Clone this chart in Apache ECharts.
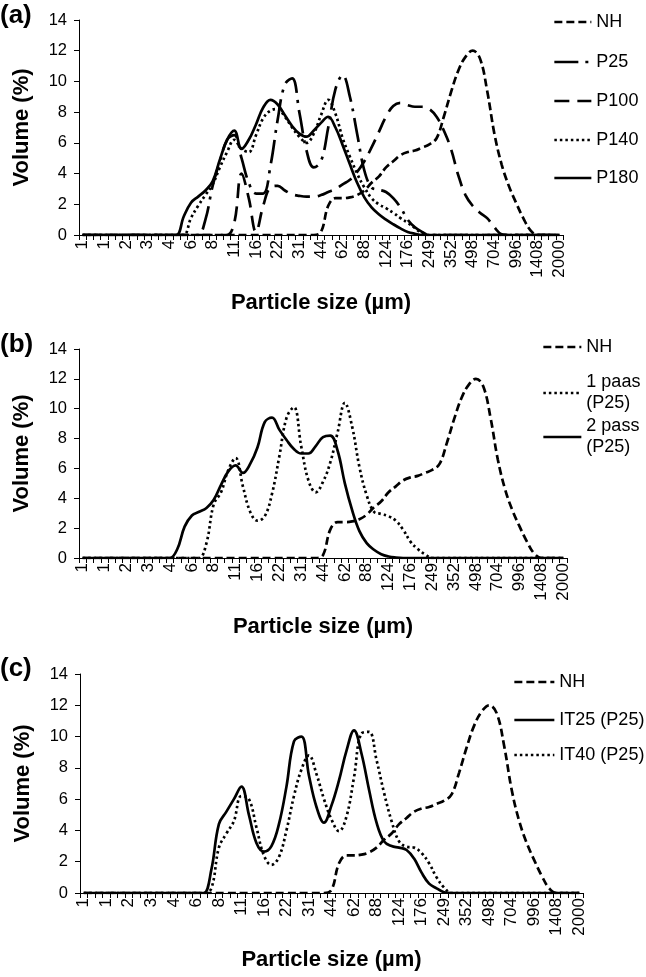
<!DOCTYPE html>
<html><head><meta charset="utf-8">
<script src="https://cdn.jsdelivr.net/npm/echarts@6/dist/echarts.min.js"></script>
<style>html,body{margin:0;padding:0;background:#fff}#c{width:646px;height:977px}</style>
</head><body><div id="c"></div><script>
// Particle size classes (µm); every third one is labelled on the axis
const sizeCategories = ['1','1.1','1.2','1','1.6','1.7','2','2.2','2.5','3','3.1','3.5','4','4.4','4.9','6','6.2','7','8','8.8','9.8','11','12','14','16','18','20','22','25','28','31','35','39','44','49','55','62','70','78','88','99','111','124','139','156','176','197','222','249','280','314','352','395','443','498','559','627','704','790','887','996','1118','1255','1408','1580','1774','2000'];

// Panel (a)
const NH = [0,0,0,0,0,0,0,0,0,0,0,0,0,0,0,0,0,0,0,0,0,0,0,0,0,0,0,0,0,0,0,0,0,
  0.2,1.9,2.4,2.4,2.45,2.6,2.9,3.4,3.8,4.4,4.8,5.2,5.4,5.5,5.7,5.9,6.3,7.7,9.3,10.7,11.6,12.0,11.5,9.4,6.6,4.6,3.2,2.1,1.1,0.3,0,0,0,0];
const P25 = [0,0,0,0,0,0,0,0,0,0,0,0,0,0,0,0,
  0,1.0,3.2,4.8,6.2,6.5,5.0,3.4,2.7,2.7,4.5,7.5,9.8,10.2,8.0,5.5,4.4,4.8,7.0,9.5,10.4,9.0,6.6,4.2,3.1,2.95,2.8,2.4,1.8,1.0,0.5,0.2,
  0,0,0,0,0,0,0,0,0,0,0,0,0,0,0,0,0,0,0];
const P100 = [0,0,0,0,0,0,0,0,0,0,0,0,0,0,0,0,0,0,0,0,0,
  0.8,4.0,2.4,0.2,1.9,3.1,3.2,2.9,2.65,2.55,2.5,2.5,2.6,2.8,3.0,3.3,3.6,4.1,4.8,5.7,6.7,7.7,8.4,8.6,8.45,8.35,8.35,8.2,7.7,6.8,5.6,3.9,2.6,1.9,1.45,1.1,0.5,0.05,
  0,0,0,0,0,0,0,0];
const P140 = [0,0,0,0,0,0,0,0,0,0,0,0,0,0,
  0,1.1,1.9,2.6,3.3,4.4,5.4,6.2,5.6,5.4,6.5,7.6,8.1,8.2,7.7,7.0,6.4,6.0,6.6,7.8,8.8,7.9,6.3,5.1,4.0,3.1,2.4,2.0,1.75,1.45,1.1,0.8,0.45,0.1,
  0,0,0,0,0,0,0,0,0,0,0,0,0,0,0,0,0,0,0];
const P180 = [0,0,0,0,0,0,0,0,0,0,0,0,0,
  0,1.2,2.1,2.5,2.9,3.5,4.9,6.2,6.8,5.6,6.2,7.2,8.3,8.8,8.5,7.8,7.1,6.6,6.4,6.8,7.3,7.7,7.0,5.85,4.6,3.4,2.45,1.8,1.35,1.0,0.7,0.43,0.2,0.08,
  0,0,0,0,0,0,0,0,0,0,0,0,0,0,0,0,0,0,0,0];

// Panel (b)
const pass1P25 = [0,0,0,0,0,0,0,0,0,0,0,0,0,0,0,0,
  0,1.0,3.6,4.4,5.9,6.7,4.8,3.1,2.5,2.8,4.3,6.8,9.4,10.1,7.5,5.2,4.4,5.1,6.4,8.4,10.4,8.8,6.1,4.2,3.1,2.95,2.8,2.5,1.9,1.1,0.6,0.25,
  0,0,0,0,0,0,0,0,0,0,0,0,0,0,0,0,0,0,0];
const pass2P25 = [0,0,0,0,0,0,0,0,0,0,0,0,
  0,0.6,2.1,2.85,3.1,3.35,3.9,4.9,5.8,6.2,5.7,6.3,7.4,9.1,9.4,8.6,7.9,7.3,7.0,7.0,7.5,8.1,8.2,7.2,5.0,3.2,1.8,1.0,0.55,0.25,0.1,0.03,
  0,0,0,0,0,0,0,0,0,0,0,0,0,0,0,0,0,0,0,0,0,0,0];

// Panel (c)
const IT25 = [0,0,0,0,0,0,0,0,0,0,0,0,0,0,0,0,
  0,1.5,4.4,5.2,6.0,6.8,5.0,3.2,2.65,3.0,4.4,6.8,9.7,10.0,7.5,5.5,4.5,5.6,7.2,9.1,10.4,8.9,6.6,4.5,3.3,3.0,2.9,2.75,2.2,1.3,0.6,0.3,0.05,
  0,0,0,0,0,0,0,0,0,0,0,0,0,0,0,0,0,0];
const IT40 = [0,0,0,0,0,0,0,0,0,0,0,0,0,0,0,0,0,
  0.3,2.9,3.8,4.6,6.2,6.0,4.2,2.4,1.8,2.3,4.0,6.2,7.9,8.8,7.6,6.0,4.7,3.95,4.9,7.4,10.2,10.3,8.5,6.4,4.6,3.3,2.96,2.9,2.55,1.9,1.0,0.35,
  0,0,0,0,0,0,0,0,0,0,0,0,0,0,0,0,0,0];

const FONT = '"Liberation Sans", Arial, sans-serif';
const BLACK = '#000';
const dashStyles = {
  shortDash: [8, 4],
  dashDot: [24, 7, 3, 7],
  longDash: [15, 8],
  dot: [2.5, 3],
  solid: 'solid'
};

const grids = [
  {left: 79, top: 20, width: 484, height: 215, nameGap: 57},
  {left: 79, top: 349, width: 488, height: 209, nameGap: 58},
  {left: 80, top: 674, width: 503, height: 219, nameGap: 56}
];

const chart = echarts.init(document.getElementById('c'), null, {renderer: 'canvas'});

const xAxes = grids.map((g, i) => ({
  type: 'category', gridIndex: i, data: sizeCategories, boundaryGap: true,
  axisLine: {show: true, lineStyle: {color: BLACK, width: 1}},
  axisTick: {show: true, interval: 0, length: 5, lineStyle: {color: BLACK, width: 1}},
  axisLabel: {interval: 2, rotate: 90, fontSize: 17, color: BLACK, margin: 5, fontFamily: FONT},
  splitLine: {show: false},
  name: 'Particle size (µm)', nameLocation: 'middle', nameGap: g.nameGap,
  nameTextStyle: {fontSize: 22, fontWeight: 'bold', color: BLACK, fontFamily: FONT}
}));
const yAxes = grids.map((g, i) => ({
  type: 'value', gridIndex: i, min: 0, max: 14, interval: 2,
  axisLine: {show: true, lineStyle: {color: BLACK, width: 1}},
  axisTick: {show: true, length: 5, lineStyle: {color: BLACK, width: 1}},
  axisLabel: {fontSize: 16.5, color: BLACK, margin: 12, fontFamily: FONT},
  splitLine: {show: false},
  name: 'Volume (%)', nameLocation: 'middle', nameRotate: 90, nameGap: 46,
  nameTextStyle: {fontSize: 22, fontWeight: 'bold', color: BLACK, fontFamily: FONT}
}));

function line(name, data, dash, idx) {
  return {
    type: 'line', name: name, data: data, xAxisIndex: idx, yAxisIndex: idx,
    smooth: 0.4, symbol: 'none', showSymbol: false,
    lineStyle: {color: BLACK, width: 2.7, type: dash},
    itemStyle: {color: BLACK},
    emphasis: {disabled: true}, animation: false
  };
}

const series = [
  line('NH', NH, dashStyles.shortDash, 0),
  line('P25', P25, dashStyles.dashDot, 0),
  line('P100', P100, dashStyles.longDash, 0),
  line('P140', P140, dashStyles.dot, 0),
  line('P180', P180, dashStyles.solid, 0),
  line('NH ', NH, dashStyles.shortDash, 1),
  line('1 paas (P25)', pass1P25, dashStyles.dot, 1),
  line('2 pass (P25)', pass2P25, dashStyles.solid, 1),
  line('NH  ', NH, dashStyles.shortDash, 2),
  line('IT25 (P25)', IT25, dashStyles.solid, 2),
  line('IT40 (P25)', IT40, dashStyles.dot, 2)
];

function legendItem(name, left, cy, w, twoLine) {
  const lh = 21;
  const base = {
    data: [name], left: left, orient: 'vertical', padding: 0,
    itemWidth: w, itemHeight: 14, selectedMode: false,
    itemStyle: {color: 'rgba(0,0,0,0)', borderColor: 'rgba(0,0,0,0)', borderWidth: 0, opacity: 0},
    lineStyle: {color: BLACK, width: 2.7},
    textStyle: {fontSize: 18, color: BLACK, fontFamily: FONT, lineHeight: lh}
  };
  if (twoLine) {
    base.formatter = n => n.replace(' (', '\n(');
    base.textStyle.padding = [lh, 0, 0, 0];
    base.top = cy - lh * 1.5;
  } else {
    base.formatter = n => n.trim();
    base.top = cy - lh / 2;
  }
  return base;
}

const legends = [
  legendItem('NH', 553, 22, 37),
  legendItem('P25', 553, 62, 37),
  legendItem('P100', 553, 101, 37),
  legendItem('P140', 553, 140, 37),
  legendItem('P180', 553, 178, 37),
  legendItem('NH ', 542, 347, 38),
  legendItem('1 paas (P25)', 542, 393, 38, true),
  legendItem('2 pass (P25)', 542, 437, 38, true),
  legendItem('NH  ', 513, 682, 40),
  legendItem('IT25 (P25)', 513, 720, 40),
  legendItem('IT40 (P25)', 513, 755, 40)
];

const panelLabels = [['(a)', 17], ['(b)', 346], ['(c)', 670]];

chart.setOption({
  animation: false,
  backgroundColor: '#fff',
  grid: grids.map(g => ({left: g.left, top: g.top, width: g.width, height: g.height, containLabel: false})),
  xAxis: xAxes,
  yAxis: yAxes,
  legend: legends,
  graphic: panelLabels.map(p => ({
    type: 'text', left: 0, top: p[1] - 14,
    style: {text: p[0], font: 'bold 26px ' + FONT, fill: BLACK}
  })),
  series: series
});
</script></body></html>
